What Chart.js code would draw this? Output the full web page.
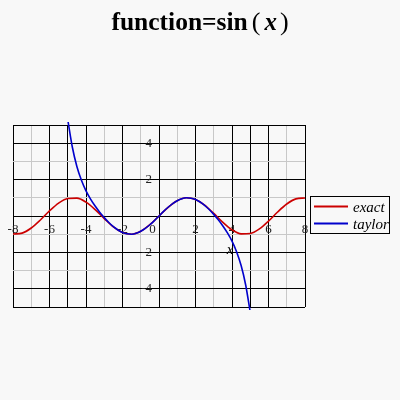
<!DOCTYPE html>
<html>
<head>
<meta charset="utf-8">
<script src="https://cdn.jsdelivr.net/npm/chart.js@4/dist/chart.umd.min.js"></script>
<style>
  html, body { margin: 0; padding: 0; background: #f8f8f8; }
  #wrap { width: 400px; height: 400px; }
  canvas { display: block; }
</style>
</head>
<body>
<div id="wrap"><canvas id="plot" width="400" height="400"></canvas></div>
<script>
// Series names shown in the legend
const seriesNames = ['exact', 'taylor'];

// sin(x) sampled every 0.5 from -8 to 8
const exactX = [-8, -7.5, -7, -6.5, -6, -5.5, -5, -4.5, -4, -3.5, -3, -2.5, -2, -1.5, -1, -0.5,
                0, 0.5, 1, 1.5, 2, 2.5, 3, 3.5, 4, 4.5, 5, 5.5, 6, 6.5, 7, 7.5, 8];
const exactY = [-0.99, -0.94, -0.66, -0.22, 0.28, 0.71, 0.96, 0.98, 0.76, 0.35, -0.14, -0.60, -0.91, -1.00, -0.84, -0.48,
                0, 0.48, 0.84, 1.00, 0.91, 0.60, 0.14, -0.35, -0.76, -0.98, -0.96, -0.71, -0.28, 0.22, 0.66, 0.94, 0.99];

// degree-7 Taylor polynomial of sin around 0, sampled every 0.25 from -5 to 5
const taylorX = [-5, -4.75, -4.5, -4.25, -4, -3.75, -3.5, -3.25, -3, -2.75, -2.5, -2.25, -2, -1.75, -1.5, -1.25, -1, -0.75, -0.5, -0.25,
                 0, 0.25, 0.5, 0.75, 1, 1.25, 1.5, 1.75, 2, 2.25, 2.5, 2.75, 3, 3.25, 3.5, 3.75, 4, 4.25, 4.5, 4.75, 5];
const taylorY = [5.29, 3.79, 2.72, 1.96, 1.38, 0.93, 0.55, 0.21, -0.09, -0.36, -0.59, -0.77, -0.91, -0.98, -1.00, -0.95, -0.84, -0.68, -0.48, -0.25,
                 0, 0.25, 0.48, 0.68, 0.84, 0.95, 1.00, 0.98, 0.91, 0.77, 0.59, 0.36, 0.09, -0.21, -0.55, -0.93, -1.38, -1.96, -2.72, -3.79, -5.29];

// Axis ranges and labelled ticks
const xRange = [-8, 8];
const yRange = [-5, 5];
const xTickLabels = [-8, -6, -4, -2, 0, 2, 4, 6, 8];
const yTickLabels = [-4, -2, 2, 4];
const xAxisTitle = 'x';

const seriesColors = ['#cc0000', '#0000cc'];
const SERIF = '"Liberation Serif", "Times New Roman", serif';

const toPoints = (xs, ys) => xs.map((x, i) => ({ x: x, y: ys[i] }));

// Heading: "function=sin(x)" with an italic x
const titlePlugin = {
  id: 'mathTitle',
  afterDraw(chart) {
    const ctx = chart.ctx;
    const runs = [
      { text: 'function=sin', font: 'bold 25.5px ' + SERIF, gap: 0 },
      { text: '(', font: '26px ' + SERIF, gap: 4 },
      { text: 'x', font: 'italic bold 25px ' + SERIF, gap: 4 },
      { text: ')', font: '26px ' + SERIF, gap: 3 }
    ];
    ctx.save();
    let total = 0;
    runs.forEach(r => { ctx.font = r.font; r.w = ctx.measureText(r.text).width; total += r.gap + r.w; });
    let x = chart.width / 2 - total / 2;
    ctx.fillStyle = '#000';
    ctx.textBaseline = 'alphabetic';
    ctx.textAlign = 'left';
    runs.forEach(r => { x += r.gap; ctx.font = r.font; ctx.fillText(r.text, x, 30); x += r.w; });
    ctx.restore();
  }
};

// Framed legend to the right of the plot, plus the italic x-axis name
const legendPlugin = {
  id: 'framedLegend',
  afterDraw(chart) {
    const ctx = chart.ctx;
    const area = chart.chartArea;
    const left = area.right + 5.5;
    const midY = (area.top + area.bottom) / 2;
    const top = midY - 19.5;
    ctx.save();
    ctx.strokeStyle = '#000';
    ctx.lineWidth = 1;
    ctx.strokeRect(left, top, 79, 37);
    ctx.font = 'italic 15px ' + SERIF;
    ctx.textAlign = 'left';
    ctx.textBaseline = 'alphabetic';
    chart.data.datasets.forEach((ds, i) => {
      const y = top + 10 + i * 17;
      ctx.strokeStyle = ds.borderColor;
      ctx.lineWidth = 2;
      ctx.beginPath();
      ctx.moveTo(left + 3.5, y);
      ctx.lineTo(left + 37.5, y);
      ctx.stroke();
      ctx.fillStyle = '#000';
      ctx.fillText(ds.label, left + 42.5, y + 5);
    });
    // axis name under the x tick labels
    const xs = chart.scales.x, ys = chart.scales.y;
    ctx.font = 'italic 15px ' + SERIF;
    ctx.textAlign = 'center';
    ctx.fillStyle = '#000';
    ctx.fillText(xAxisTitle, xs.getPixelForValue(3.9), ys.getPixelForValue(0) + 38);
    ctx.restore();
  }
};

const gridColor = (ctx) => {
  const v = ctx.tick ? ctx.tick.value : 0;
  return (v % 2 === 0 || Math.abs(v) === 5) ? '#000000' : '#c8c8c8';
};

// the origin label sits just left of the vertical axis
const xLabel = (v) => {
  if (!xTickLabels.includes(v)) return '';
  return v === 0 ? '0    ' : String(v);
};

new Chart(document.getElementById('plot'), {
  type: 'line',
  data: {
    datasets: [
      {
        label: seriesNames[0],
        data: toPoints(exactX, exactY),
        borderColor: seriesColors[0],
        backgroundColor: seriesColors[0],
        borderWidth: 1.6,
        pointRadius: 0,
        cubicInterpolationMode: 'monotone',
        clip: 3,
        order: 1
      },
      {
        label: seriesNames[1],
        data: toPoints(taylorX, taylorY),
        borderColor: seriesColors[1],
        backgroundColor: seriesColors[1],
        borderWidth: 1.6,
        pointRadius: 0,
        cubicInterpolationMode: 'monotone',
        clip: 3,
        order: 0
      }
    ]
  },
  options: {
    responsive: false,
    animation: false,
    devicePixelRatio: 1,
    layout: { padding: { left: 13, top: 125, right: 95, bottom: 93 } },
    plugins: { legend: { display: false }, title: { display: false }, tooltip: { enabled: false } },
    scales: {
      x: {
        type: 'linear',
        position: 'center',
        min: xRange[0],
        max: xRange[1],
        grid: { color: gridColor, lineWidth: 1, drawTicks: false },
        border: { display: true, color: '#000', width: 1 },
        ticks: {
          stepSize: 1,
          autoSkip: false,
          maxRotation: 0,
          padding: 6,
          color: '#222',
          font: { family: SERIF, size: 13 },
          callback: xLabel
        }
      },
      y: {
        type: 'linear',
        position: 'center',
        min: yRange[0],
        max: yRange[1],
        grid: { color: gridColor, lineWidth: 1, drawTicks: false },
        border: { display: true, color: '#000', width: 1 },
        ticks: {
          stepSize: 1,
          autoSkip: false,
          padding: 7,
          color: '#222',
          font: { family: SERIF, size: 13 },
          callback: (v) => yTickLabels.includes(v) ? String(v) : ''
        }
      }
    }
  },
  plugins: [titlePlugin, legendPlugin]
});
</script>
</body>
</html>
